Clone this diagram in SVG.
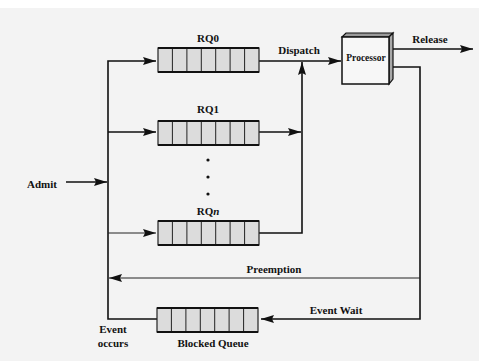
<svg xmlns="http://www.w3.org/2000/svg" width="479" height="361" viewBox="0 0 479 361">
<style>
.t{font-family:"Liberation Serif","Times New Roman",serif;font-weight:bold;font-size:11px;fill:#111;text-anchor:middle}
.ln{fill:none;stroke:#111;stroke-width:1.6}
.thin{fill:none;stroke:#222;stroke-width:1}
</style>
<defs>
<marker id="ah" markerUnits="userSpaceOnUse" markerWidth="14" markerHeight="9" refX="13" refY="4.5" orient="auto">
<path d="M0,0.5 L13,4.5 L0,8.5 L2,4.5 z" fill="#111"/>
</marker>
<g id="queue">
<rect x="0" y="0" width="101" height="24" fill="#dcdcdc" stroke="#222" stroke-width="1.2"/>
<path d="M14.4,0V24M28.9,0V24M43.3,0V24M57.7,0V24M72.1,0V24M86.6,0V24" stroke="#222" stroke-width="1"/>
<path d="M0,0H101M0,24H101" stroke="#111" stroke-width="2"/>
</g>
</defs>
<rect x="0" y="0" width="479" height="361" fill="#fff"/>
<rect x="0" y="8" width="479" height="353" fill="#f3f3f3"/>

<g id="connectors">
<path class="ln" d="M157,319 H108 V61 H156" marker-end="url(#ah)"/>
<path class="ln" d="M108,132 H156" marker-end="url(#ah)"/>
<path class="thin" d="M108,233 H156" marker-end="url(#ah)"/>
<path class="ln" d="M66,182 H107" marker-end="url(#ah)"/>
<path class="ln" d="M259,61 H341" marker-end="url(#ah)"/>
<path class="ln" d="M259,233 H302 V62" marker-end="url(#ah)"/>
<path class="ln" d="M259,132 H301" marker-end="url(#ah)"/>
<path class="ln" d="M393,49 H473" marker-end="url(#ah)"/>
<path class="ln" d="M393,67 H420 V319 H261" marker-end="url(#ah)"/>
<path class="thin" d="M420,278 H109" marker-end="url(#ah)"/>
</g>

<g id="rq0">
<use href="#queue" x="158" y="48"/>
<text class="t" x="208" y="42">RQ0</text>
</g>
<g id="rq1">
<use href="#queue" x="158" y="121"/>
<text class="t" x="208" y="113">RQ1</text>
</g>
<g id="dots">
<circle cx="208" cy="160" r="1.6" fill="#111"/>
<circle cx="208" cy="177" r="1.6" fill="#111"/>
<circle cx="208" cy="194" r="1.6" fill="#111"/>
</g>
<g id="rqn">
<use href="#queue" x="158" y="221"/>
<text class="t" x="208" y="215">RQ<tspan font-style="italic">n</tspan></text>
</g>
<g id="blocked">
<use href="#queue" x="157" y="308"/>
<text class="t" x="213" y="347">Blocked Queue</text>
</g>
<g id="processor">
<polygon points="342,37 346,33 393,33 389,37" fill="#9a9a9a" stroke="#111" stroke-width="1.2"/>
<polygon points="389,37 393,33 393,79 389,84" fill="#a8a8a8" stroke="#111" stroke-width="1.2"/>
<rect x="342" y="37" width="47" height="47" fill="#f7f7f7" stroke="#111" stroke-width="1.5"/>
<text class="t" x="366" y="61" style="font-size:9.5px">Processor</text>
</g>
<g id="labels">
<text class="t" x="299" y="54">Dispatch</text>
<text class="t" x="430" y="43">Release</text>
<text class="t" x="42" y="188">Admit</text>
<text class="t" x="274" y="273">Preemption</text>
<text class="t" x="336" y="314">Event Wait</text>
<text class="t" x="113" y="333">Event</text>
<text class="t" x="113" y="347">occurs</text>
</g>
</svg>
